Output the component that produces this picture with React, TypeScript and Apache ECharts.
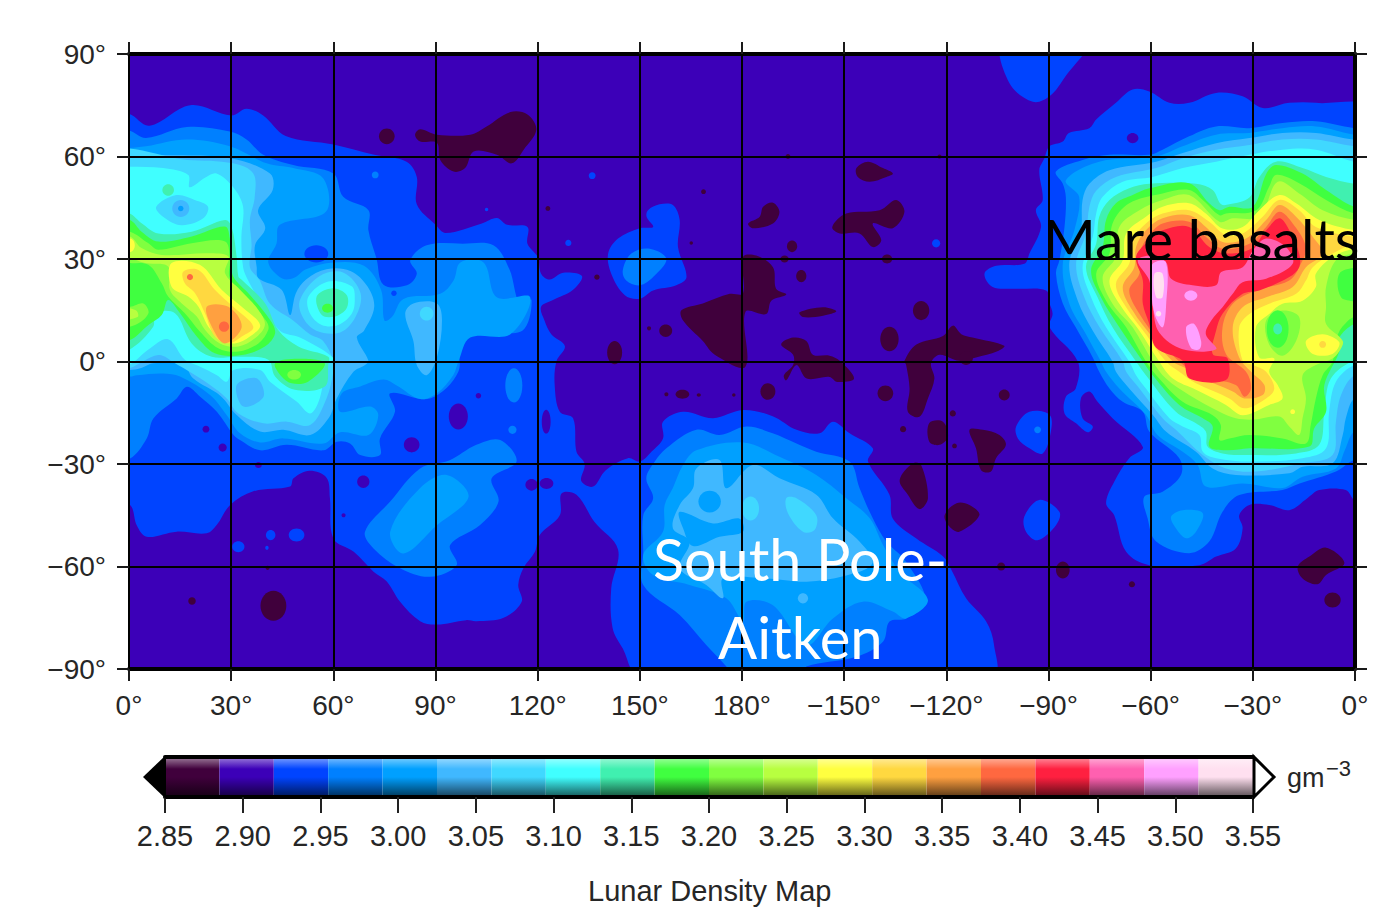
import React, { useEffect, useRef } from "react";
import * as echarts from "echarts";

// Colour scale: 20 bands of 0.035 g/cm3 from 2.85 to 3.55
const bandColors = ["#40003c","#3c00b8","#0044ff","#0080ff","#00a0ff","#40b8ff","#40d8ff","#40ffff","#40f0b0","#40ff40","#80ff40","#b8ff40","#ffff40","#ffd840","#ffa040","#ff6840","#ff2040","#ff60b0","#ffa0ff","#ffe0f0"];

// Contours as lon,lat pairs (lon 0..360); spots are lon,lat,rx,ry
const band2 = [
  [-5,72.5,0,72.5,6,69,18,75,30,72,34.5,74,39.4,72,46,66,60,63.5,72,60.5,81.5,58.5,84.5,54,84.5,46,90,40,93,37.6,103.6,40.4,108,42,111,40,117,39.4,117,34.5,120,30.6,121,25.7,123.5,24,127.5,26,133,25,130.4,21,124.5,18,121,16,122,12,124,8,128,4.5,125.5,0,125,-7,126.5,-14.7,130.4,-16.6,131.4,-26.4,133.8,-30,132.8,-35,136.3,-36.6,140,-31.8,146.5,-28.3,150,-29.3,153.4,-26.4,156.8,-22.5,156.8,-17.6,162.7,-14.7,171.5,-16.6,180.3,-14.2,189,-16,196,-20,202.8,-21,206.7,-17.6,211.6,-21,218.4,-25.4,217,-29.3,223.3,-39,224.3,-46,231.2,-51.8,239,-57,241.5,-61,245.8,-69.3,251.7,-76.1,254,-83,253.6,-92,150,-92,145,-84,142,-78,141.6,-66.4,143.6,-55,136.7,-47,131.4,-39,127,-38.6,126.5,-45,120.6,-50.8,119.2,-55.7,115.8,-60.5,114.3,-65.4,115.3,-70.3,110,-75,102,-76,99,-75.7,90.3,-77,85.5,-76,79.6,-70.3,75.7,-64.4,71.8,-61.5,66,-55.7,60,-51.8,59,-40,58,-34,53,-32,48.3,-34.2,47.3,-36.6,36.5,-38,29.7,-42,25.8,-47.8,22.8,-50.3,14,-49.8,5.2,-51.3,2.3,-48,0.3,-42,-5,-42],
  [365,73,348.5,75.7,340.7,75.7,332.9,74.2,327,77.6,319.2,78.6,311.3,75.7,305.5,75.7,299.6,79,294.7,79.6,289.8,75.7,284,70.8,282,68.3,276,66.9,274.2,64.4,270.3,63,268.8,59.5,267.3,56,268.3,47.3,266.3,44.3,267.8,39.4,264.4,31.6,262.9,28.6,254.6,28,251.2,25.7,253.6,21.8,260.5,21.3,269.3,20.8,270.3,17,271.2,14,270.3,10,278.6,0,278,-7.9,275.1,-10.3,274.7,-15.2,278.1,-18.1,281.5,-20.7,283,-19,280,-16.6,279.5,-10.8,282,-8.8,284.4,-11.8,288.8,-16.6,297.7,-25,293.7,-28.3,289.3,-35.2,286.9,-41.5,289.3,-45,292.8,-55.7,299.6,-59.6,314.3,-59.6,319.2,-57.1,325,-54.7,327,-48.8,326,-45,329,-42,334.8,-42,340.7,-43.5,346,-40,349.5,-37.6,357.3,-37.6,359.8,-40.5,365,-42],
  [256.6,93,258.5,81.5,265.4,76,270.3,77.6,275,83.5,281,93],
  [152.4,44.3,155.8,46,159.7,45.8,161.7,41.4,161.2,33.5,163.7,24.7,160.7,22.3,153.9,20.8,150,18.4,145.6,19.4,141.6,25.7,140.7,31.6,143.6,36,150,39,153.9,39.4,152,42.3],
  [260.5,-19,264.4,-14.7,270.3,-15.6,270.7,-20.5,268.3,-26.9,264.4,-25.4,261,-22.5],
  [262.9,-45.4,267.3,-40.5,273.2,-44,272.2,-47.9,266.8,-52.3,263.4,-49.8],
];
const spots2 = [[32.1,-54.2,1.8,1.6],[41.6,-50.8,1.4,1.5],[49.2,-50.8,2.3,1.9],[40.5,-54.5,0.5,0.6],[129,34.7,0.9,0.9],[136,54.4,1,1],[237,34.6,1.2,1.2],[105,44.5,0.5,0.5]];
const indigoSpots = [[96.7,-16.1,2.8,3.8],[83,-24.4,2.3,2.2],[68.8,-35.2,1.8,1.8],[22.6,-19.8,1,1],[27.5,-25.2,1.2,1.2],[38,-30.3,1,0.9],[118.2,-36.1,1.8,1.7],[122.6,-35.7,2,1.6],[122.5,-17.6,1.3,3.5],[102.6,-10,0.8,0.8],[63,-45,0.6,0.6],[294.7,65.4,1.7,1.5]];

const darkRings = [
  [84,66.4,85.5,68,90.4,66.4,100.2,66.4,105,68.8,112,73,117,72.3,119.6,67.8,115.9,62,112.4,58,108,60.5,101.2,61.5,98.7,56.6,95.3,55.6,91.4,59,90.4,64,85.5,64.4],
  [213.6,56.6,217,58.5,221.4,56.6,224.3,55,222.4,54,217.5,52.6,214,54],
  [181.8,40.4,185.2,42.4,186.2,45.3,189.1,46.5,191,43.8,189.1,40.4,183.2,39],
  [206.5,39.4,210.6,43.3,220.4,44.3,225.3,47.3,227.7,43.8,224.3,39,218.4,40.4,220.9,35.5,218.4,33.5,214.5,37.5,208.7,37.5],
  [196.9,14.4,203.8,15.9,207.7,14.7,203.8,13.4,197.9,13],
  [180.3,30.6,184.2,31,189.1,27.6,190,21.3,193,19.6,188.6,17.8,187.1,13.9,181,14.5,181,-1.5,172,2,168.5,6,162.7,12,162.2,15,168.5,17,176.4,19.8,180.3,20],
  [191.5,5,195,7,198.9,6,200.8,2,205.7,1.7,208.7,0.2,212.9,-5,208,-6,205.7,-4.5,199,-5,196,-1,193,-5.5,192.3,-4,195,-1,195,2],
  [227.7,0.2,231.2,5,239,7.5,241.9,10.5,244.4,8,247.7,7,257,4.6,255,3,248.7,1.2,243.8,0.2,238,2,235.5,-0.5,236.5,-5,234.6,-10.8,232.1,-16.2,228.7,-14.7,229.2,-7.9,228.2,-1],
  [235,-18,239,-17.6,240.5,-22,238,-24.4,235,-23.5],
  [226.3,-34.7,230.2,-29.8,232.6,-30.3,234.6,-40,232.1,-43.2,228.7,-39],
  [239.5,-45,243,-41.5,246.8,-42,249.7,-45,243.8,-49.8,240.9,-48.3],
  [246.8,-20,250.7,-20,255.6,-21.5,257.5,-24.4,254.6,-28.3,253.1,-32.2,250.2,-31.8,248.7,-25.4],
  [343.2,-60,346.6,-57.1,351.5,-54.5,356.9,-59,351.5,-62.5,349,-65.2,344.6,-63.5],
];
const darkSpots = [[75.7,65.9,2.3,2.3],[194.7,33.7,1.5,1.7],[192.5,30,1.2,1],[222.6,30,1.5,1.3],[197.4,25,1.5,1.8],[137.4,24.7,0.8,0.8],[157.6,9,1.9,1.8],[152.7,9.7,0.6,0.6],[142.6,2.6,2.2,3.4],[232.6,14.9,2.4,2.8],[223.3,6.6,2.7,3.6],[187.6,-8.8,2.2,2.4],[222.1,-9.3,2.3,2.3],[162.5,-9.6,2,1.3],[157.8,-9.6,0.6,0.6],[167.3,-9.8,0.6,0.5],[177.6,-9.8,0.5,0.5],[241.9,-15.2,0.9,0.9],[227.3,-19.8,0.9,0.9],[242.4,-24.7,0.7,0.7],[245.8,1,2,2],[257,-9.8,1.6,1.6],[256.1,-60,1.2,1.2],[274.2,-61,2,2.5],[294.5,-65.2,0.9,0.9],[353.4,-69.8,2.4,2.2],[18.5,-70.1,1.1,1.1],[42.4,-71.5,3.8,4.4],[40.7,-60.4,0.6,0.6],[168.7,49.7,0.7,0.7],[123,44.8,0.7,0.7],[193.5,60,0.7,0.7],[238,60,0.6,0.6],[165.1,34.7,0.5,0.5]];

const band3 = [
  [-5,67.6,0,67.6,5,65.4,17,68.6,29.6,67.3,34.5,65,39.4,60.5,48.2,57.5,60,55,62.9,48.2,70.3,44.3,70.3,38.4,72.7,30,74.7,22.5,81.6,22.3,84.5,25.7,82.6,29.6,87.4,34,98,34.5,107,34,111.7,27,114.7,17,118.2,18,115.5,9,105,9,97,8,96.7,-3,88.4,-10.8,76.7,-9.3,78.1,-14.7,73.7,-22.5,73.7,-27.4,67.9,-27.4,64.9,-24,61,-23.5,57.1,-26,46.3,-24.4,38.5,-26,32.6,-23,30.7,-21.5,25.8,-14.7,20.9,-10.3,17,-7.4,14,-10.8,7.2,-16.6,5.2,-22.5,0.3,-28.4,-5,-28.4],
  [365,68.3,359.8,68.3,348.5,70.3,338.7,69.8,329,68.3,319.2,68.8,311.3,65.9,303.5,62,299.6,60.5,287.9,60.5,280,59,272.2,55.6,274.2,52,275.1,48,274.7,39.4,273.2,29.6,272.2,25.7,274.2,17,278,10,283,1.2,284.9,-3,287.9,-7.9,291.8,-11.8,297.7,-14.7,299.6,-20.5,308.4,-28.3,308.9,-33.2,303.5,-38.1,298.1,-39.6,299.1,-45.9,301.6,-52.7,311.3,-56.1,317.2,-52.7,321.1,-44,326,-39.1,338.7,-37.6,343.7,-35.7,354.4,-32.2,359.8,-28.8,365,-28.8],
  [157.8,-25.4,166.6,-20,173.4,-21.5,181.3,-19,189,-21,196,-24,201.8,-26.4,211.6,-29.3,214.5,-37,218.4,-45.9,222.4,-52.7,228.2,-58.6,234,-70.3,228.2,-75.2,223.3,-76.1,221.4,-82,213.6,-86.4,198.9,-89.3,198.9,-92,176.9,-92,175.4,-89.3,169.5,-83,161.7,-74.2,151,-65.4,151,-55.7,151,-45,153.9,-40,151.9,-34.2,154.4,-29.3],
  [69.3,-49.8,76.7,-41,85.5,-31.3,94,-29,102,-24.4,109,-23,113.8,-29.3,106.5,-34.2,108.5,-41,103,-47.9,94.3,-53.7,96.2,-59.6,88.4,-63,79.6,-60.5,71.8,-54.7],
  [145,26.7,147.5,31.6,152.9,33,157.8,30,153.9,24.7,150,22.3,146,23.7],
];
const spots3 = [[72.3,54.6,1,1],[266.8,-20,1,1],[113,-7,2.5,5],[112.6,-20,1.2,1.2]];
const holes2 = [[55,31.5,3.5,2.5],[77.8,20,0.8,0.8]];

const band4 = [
  [-5,62.5,0,62.5,5,63,17,65,29.6,63,40.4,58,48.2,56.6,57,53.6,57.8,43.8,44.3,40,43.3,34.5,40.9,29,45,24.3,48.5,24.5,52,27,60,29,69,28,74,21,75,12,77.2,13,80.6,18.3,91.4,19.8,95.3,23.7,97.3,29,104.1,29,108,18.8,117.8,18.8,112,8,100.2,7,96.8,0.2,95.2,-4,90.4,-9.3,85.5,-11,78.6,-7,74.7,-5.3,67.9,-7.3,62.5,-9.3,62,-14.7,70.8,-13.2,73.2,-15.7,70.3,-21.5,62,-20.7,57.1,-24,45.3,-22.5,38.5,-23.7,32.6,-21,28.7,-15.7,23.8,-9.8,15,-4.4,10,-3.5,2.3,-4,0.3,-4.4,-5,-4.4],
  [365,66.4,359.8,66.4,348.5,68.8,338.7,68.3,329,66.9,319.2,66.4,309.4,63,301.6,60,284.9,58.5,275.1,53,279,48.2,277.6,38.4,274.2,28.6,276.1,17,281,8,285.4,0,286.9,-3,290.8,-7.9,298.6,-15.6,302,-21.5,309.4,-26.4,313.8,-30.3,316.2,-36.6,327,-35.7,338.7,-37,344.6,-33.7,354.4,-31.3,357,-26,359.8,-20.5,365,-20.5],
  [157.3,-42,159.7,-37,162.7,-30.3,166.6,-26,180.3,-23.7,191,-27.9,201.8,-33.2,210.6,-40,217.5,-45.9,221.4,-53.7,226.3,-61.5,234.6,-69.8,228.2,-75.2,224.3,-73.2,215.5,-70.3,206.7,-75.2,198.9,-83,189,-71.3,181.3,-70.3,180.3,-76,175.4,-69.3,164.6,-65.4,153.9,-62.5,151,-56.6,156.8,-49.8],
  [76.7,-49.8,85.5,-37,93.3,-33.2,99.7,-39.6,90.3,-48,80.6,-56.2],
  [306,-45.4,309.4,-43.5,315.3,-44.4,313.3,-49.8,310.4,-51.7,307.4,-48.8],
];

const band5 = [
  [-5,61,0,61,7,60.5,29.6,59.5,41.4,55,42.2,50.2,37.9,44.3,40,39,37,34,37.5,27.6,38,24.4,44.8,21,47.3,13.6,49,20,52,24,58,27,65,26.5,70,22,72,16,69,9,66.9,7,70.3,0.2,69.3,-1,65.9,-3,61,-10.8,58.6,-16.6,53.2,-21.5,45.3,-20,38.5,-20.5,31.7,-15.7,26.8,-10,18.9,-5,16,-1,7.2,-0.5,3.3,-2,0.3,-2.5,-5,-2.5],
  [365,64.9,359.8,64.9,348.5,66.9,338.7,66.9,329,65.4,319.2,63.9,309.4,61,301.6,58.5,287.9,56,282,52,280,47.3,279.5,38.4,276.1,28.6,278.6,17.8,283,9,288.8,0,289.8,-3,293.7,-7.9,300.6,-15.6,304.5,-20.5,313.3,-26.4,318.2,-31.3,325,-33.2,340.7,-32.7,344.6,-30.8,353.4,-29.8,356.4,-21.5,357.3,-16.6,359.8,-10.8,365,-10.8],
  [166.6,-31.3,173.4,-28.8,175.4,-37.1,183.2,-30.3,191,-34.2,201.8,-39,206.7,-45.9,214.5,-52.7,218.4,-58.6,214.5,-61.5,199.9,-64.4,187.1,-63.5,174.4,-63.5,174.4,-69.3,169.5,-65.4,161.7,-60.5,164.6,-52.7,159.7,-48.8,161.7,-42,165.6,-37.1],
  [81.1,14,83.5,17,90.4,17,91.9,12,90.4,1.2,87.4,-4,84.5,-1,83.5,6],
];
const spots5 = [[197.9,-69.3,1.5,1.5]];
const holes4 = [
  [161.7,-44,171.5,-47.4,179.3,-46,180.3,-49.8,173.4,-51.3,165.6,-54,162.7,-48.8],
];
const holes4Spots = [[170.5,-41,3.3,3.2]];

const band6 = [
  [-5,60,17,59,30.6,58,36.5,55,36.9,48,35.5,41.4,36,34,35.5,27.6,38.4,23.7,41.4,16.9,48.2,12,53.1,8,57,6,60,0.2,60,-3,58,-10.8,53.2,-18.6,46.3,-17.6,39.5,-18.1,32.1,-15.2,28.7,-10.8,23.8,-6.9,18.4,-3.4,13.5,-0.5,8.6,1.9,0,-2,-5,-2],
  [365,63,359.8,63,348.5,65,338.7,65,329,63.4,319.2,62,309.4,59.5,301.6,56.6,289.8,54,284,50,282,45.3,281,37.5,278.1,28.6,280.5,18.8,285,10,291.8,0,292.8,-3,296.7,-7.9,303.5,-16.6,307.4,-20,315.3,-27.4,322.1,-31.3,330.9,-32.2,344.6,-29.8,353.4,-27.4,354.4,-17.6,355.9,-9.8,359.8,-4,365,-4],
  [50.2,18,56,25,63,26,68,20,66.5,13,62,8.5,55,9,51,13],
  [193,-40,196,-40,201.8,-45,201.3,-49.3,197.9,-49.8,193.5,-44.4],
];
const spots6 = [[182.5,-43,2.5,3.5],[87.4,14,2,2]];
const holes5 = [[31.6,-6.9,37.5,-4.9,39.5,-10.3,33.6,-13.2]];

const band7 = [
  [-5,57,0,57,10,56.6,17.4,54.6,17.8,51,22.7,54,25.7,55,30.6,51,33.5,45.3,33,36.5,33.5,27.6,35,23.7,38.4,17.8,44.3,9,50.2,7,60,1,58,-1,56,-10.8,53.2,-15.2,49.3,-11.8,41.4,-5.9,38.5,-2.5,30.7,-2.5,28.7,-5.9,25.8,-4,20.9,-1.5,16.4,0.5,11.5,6.5,5.7,3.5,0,-1,-5,-1],
  [365,58.5,359.8,58.5,348.5,62,338.7,62,329,60.5,319.2,58.5,309.4,56.6,300.6,54,291.8,52.6,285.9,48.2,284,43.3,283,36.5,280,27.6,282.5,18.8,286.9,10,293.7,0,295.7,-4,298.6,-7.9,305.5,-16.6,309.4,-19,314.3,-21.5,315.3,-26.4,319.2,-28.3,329,-29.3,344.6,-28.3,351.5,-25.4,352.4,-14.7,354.4,-5.9,359.8,-1,365,-1],
  [52.7,19,58.5,23.4,65.4,22,66.3,18,65.4,14,61.4,10.7,56.6,10.7,53.1,14.1],
];
const holes6 = [[8,45.3,13.9,48.7,19.3,47.3,23.2,45.3,21.8,41.9,15.4,39.9,10,42.4]];
const holes5Spots = [[15.2,44.8,2.5,2.5]];
const holes4Dots = [[15.2,44.8,0.8,0.8]];

const band8 = [
  [-5,43.4,0,43.4,3.7,40.5,8.6,37.5,18.4,38,28.2,41.4,30.1,39.5,31.6,30.7,32.1,24.9,33.1,23.9,40,17,43.8,9.2,49.7,4.4,58.5,1.4,58.5,-1,57.5,-7.3,48.7,-8.3,42.9,-4.4,40.9,0.5,32.1,1.4,24.3,1.4,18.4,5.3,13.5,14.1,7.6,14.1,7.1,10.2,0,3.4,-5,3.4],
  [365,52,359.8,52,351.5,54,344.6,56.6,336.8,58.5,331.9,54,329,48,323.1,46,320.7,46,318.2,50.2,313.3,52,299.6,52,293.7,50.7,287.9,47.3,284.9,42.4,284,34.5,281,27.6,284.4,18.8,288.8,10,295.7,0,298.6,-4,307.4,-14.7,313.3,-18.1,316.2,-20.5,316.7,-24.9,321.1,-26.9,329,-27.4,342.7,-26.9,349.5,-24.4,351,-14.7,352.9,-5,359.8,0.4,365,0.4],
  [55.1,19,59.5,21.4,63.9,19.5,63.9,15.6,60.5,13.2,56.6,13.6],
];
const spots8 = [[11.5,50.2,1.7,1.7],[2.7,20,2.2,2.2]];
const holes7Spots = [[2.7,20,1.1,1.1]];

const band9 = [
  [-5,41.4,0.3,41.4,3.7,38,8.6,35.1,18.4,36.6,28.2,39.5,29.6,36,30.1,29.7,30.6,24.9,35.5,19.5,41.4,12.2,42.9,8.3,39.9,4.4,33.1,1.9,25.2,2.4,19.9,7.3,15,14.1,11.5,18,9.6,13.6,5.7,10.7,0.3,6.3,-5,6.3],
  [365,45.3,359.8,45.3,351.5,50.2,344.6,55,336.8,57.5,334,55,330,45.3,323.1,45.3,320.2,44.3,317.2,46.3,311.3,52.2,299.6,50.7,294.7,48.7,289.8,46.3,286.9,41.4,285.9,33.5,282.5,26.7,285.4,18.8,290.8,10,297.7,0,300.6,-4,308.4,-12.7,315.3,-16.6,318.2,-19,317.2,-24.9,322.1,-26,329,-25.4,346.6,-24.9,348,-19.6,351.5,-14.7,351,-6.9,355.4,3,355.4,7,359.8,11,365,11],
  [42.9,-0.5,44.8,-4.4,47.8,-6.4,52.6,-5.9,57.5,-0.5,49.7,0.8],
];
const spots9 = [[58.3,15.6,1.6,1.3]];

const bandA = [
  [-5,38,0.3,38,5.7,34.6,8.6,32.7,18.4,34.6,28.2,35.1,29.6,29.7,29.6,24.4,35,18,40.4,11.7,40.9,9.3,38,5.3,32.1,2.9,26.2,3.9,20.8,8.8,16.4,14.1,11.5,19,9.6,22.9,5.7,28.3,0.3,28.8,-5,28.8],
  [-5,16,0.3,16,4.2,17,5.7,14.1,1.8,10.7,-5,10],
  [365,43.3,359.8,43.3,351.5,47.3,343.6,52.2,336.8,54.6,334.8,51.2,331,44.3,322.1,43.3,320.2,42.8,315.3,47.3,311.3,50.2,303.5,49.2,293.7,46.3,288.8,40.4,287.9,31.6,284,25.7,286.9,17.8,292.8,10,298.6,0,302.5,-5,309.4,-11.8,318.2,-15.7,320.6,-18.6,320.2,-23,323.1,-22.5,329,-21.5,338.7,-22.5,345.6,-24,347,-18.6,348.5,-10.8,350.5,-4,353.4,0,355,8,358,12,361,14,361,17,355.9,18.8,355.4,25.7,361,27.6,365,27.6],
];
const spotsA = [[48.5,-3.9,2,1.4]];

const bandB = [
  [-5,36.6,0.3,36.6,3.7,33.2,9.6,31.2,23.3,31.7,29.2,30.7,28.2,25.8,32.6,21,38,15.1,39.9,10.7,37,6.8,32.1,4.4,26.7,5.3,22.3,9.3,19.9,13.2,15.5,17,12,21,11.5,27.8,4.7,28.8,0.3,30.2,-5,30.2],
  [-5,16,2,15,2.5,13,-5,12],
  [365,41.4,359.8,41.4,350.5,44.3,343.6,49.2,337.3,52.6,331.9,42.4,324.1,41.9,320.2,40.9,311.3,48.7,303.5,47.3,296.7,44.3,290.8,39.4,289.8,30.6,285.9,24.7,288.8,16.9,294.7,10,300.6,0,304.5,-5,311.3,-9.8,320.2,-14.7,325,-16.6,330,-17,337.8,-16.1,340.7,-19,343.6,-21.5,344.6,-16.6,345.6,-10.8,344.6,-4,348.5,-1,353.4,0.9,355.4,3,356.4,6,351.5,11,351.5,16,351.5,21.8,354.4,29.6,359.8,31.6,365,31.6],
];
const holesA = [[333.9,12,338.7,14.9,343.6,13,342.7,6,338.7,1.7,334.8,5]];
const holes9Spots = [[337.3,9.5,3.2,5.5]];
const holes8Spots = [[337.3,9.5,1.3,1.6]];

const bandC = [
  [12.5,28.8,20.8,28.3,27.2,21,33.1,16,38.5,10.7,35.5,7.3,31.1,5.3,27.2,6.3,23.3,10.2,20.4,16,17.4,19,12.5,21.9],
  [365,38.4,359.8,38.4,349.5,41.4,342.7,46.3,337.8,48.7,331.9,44.3,327,39.4,321.1,38.9,316.2,43.3,311.3,46.3,303.5,45.3,298.6,42.4,292.8,37.5,291.8,29.6,287.9,23.7,290.8,16.9,296.7,9,302.5,0,306.5,-5,313.3,-8.3,322.1,-12.7,327,-15.7,334.8,-12.7,338.7,-10.8,337.3,-6.9,334.8,-3,336.3,0.9,331.9,1.2,330.9,10,334.8,13.9,338.7,16.9,344.6,17.8,348.5,21.8,348.5,25.7,353.4,30.6,359.8,33,365,33],
  [345.6,6,350.5,8,355.4,5.6,353.4,2.2,347.6,2.2],
];
const spotsC = [[341.7,-14.7,0.7,0.7],[0.2,34,1.5,2]];

const bandD = [
  [15.9,26.3,20.4,26.8,25.2,21,30.6,16,36.5,10.2,33.1,7.3,29.2,5.3,25.2,7.3,22.3,14.1,19.4,20,16.4,22.9],
  [365,36.5,359.8,36.5,348.5,39.4,343.6,44.3,337.8,47.3,332.9,42.4,327,37.5,322.1,37,317.2,40.9,311.3,44.3,303.5,43.3,298.6,40.4,294.7,35.5,293.7,28.6,289.8,22.7,292.8,15.9,298.6,8,304.5,0,308.4,-3,313.3,-6.4,323.1,-10.8,327.5,-13.7,333.9,-10.8,336.3,-7.9,333.9,-3,330,-1,327,0.2,326,10,329,13.9,334.8,16.9,342.7,19.8,345.6,23.7,347.6,27.6,353.4,31.6,359.8,34.5,365,34.5],
];
const spotsD = [[350.5,5,1,1]];

const bandE = [
  [22.8,16,29.2,16,33.1,10.2,28.2,5.3,24.8,9.2],
  [347.6,36.5,342.7,42.4,337.8,45.8,333.9,41.4,328,36,321.1,35,316.2,39.4,311.3,42.8,303.5,41.9,298.6,38.4,295.7,33.5,295.2,27.6,291.8,21.8,294.7,14.9,300.6,7,306.5,0,310.4,-2,315.3,-5,324.1,-8.8,327.5,-10.8,332.9,-9.8,333.4,-6.9,329.5,-3,326,1.2,324.1,10,327,15.9,333.9,18.8,341.7,21.8,345.6,27.6,350.5,31.6],
];

const bandF = [
  [345.6,33.5,341.7,40.4,337.8,43.8,333.9,39.4,329,34.5,321.1,33,316.2,36.5,311.3,40.9,303.5,40.4,299.6,37,296.7,31.6,296.7,25.7,293.7,20.8,296.7,14,302.5,6,308.4,0,312.3,-3,317.2,-5,325,-6.9,327.5,-10.3,329.5,-7.9,328,-3,322.1,2.2,321.1,10,324.1,16.9,330.9,20.8,340.7,23.7,344.1,28.6],
];
const spotsF = [[27.9,10.2,1.5,1.5],[17.9,24.7,0.9,0.9]];

const bandG = [
  [343.6,31.6,340.7,38.4,337.8,41.9,333.9,38.4,329.5,33,322.1,31.6,317.2,33.5,311.3,39.4,303.5,38.4,299.6,35.5,295.7,30.6,297.7,23.7,297.7,16.9,299.6,11,301.6,4,309.4,0.2,311.4,-5,322.1,-5.4,322.6,0.9,318.2,2.2,319.2,9,321.1,14,327,19.8,331.9,20.8,340.7,24.7,343.6,27.6],
];
const bandH = [
  [341.7,28.6,333.9,24.2,327,23.2,324.1,19.8,321.1,15.9,317.8,12,316.2,8,319.2,3.6,309.4,3.6,302.5,8.5,300.6,15.9,299.6,23.7,296.2,29.6,300.6,31,304.5,29.1,306,24.2,312.3,22.3,319.2,22.3,320.7,26.2,327,27.6,330,32.5,333.9,36,339.7,33.5],
];
const bandI = [
  [300.6,28.6,304.5,29,304.5,15.9,303.5,10,301.1,14,300.1,23.7],
  [310.4,10,312.8,11,314.8,6,314.3,3.6,311.8,4],
];
const spotsI = [[311.8,19.3,1.9,1.5]];
const bandJ = [[301.1,25.7,303.5,25.7,303.5,18.8,301.6,18.8]];
const spotsJ = [[302.3,14,0.8,0.8]];

type Item = { band: number; ring?: number[]; spot?: number[] };
const rings = (band: number, list: number[][]): Item[] => list.map((ring) => ({ band, ring }));
const spots = (band: number, list: number[][]): Item[] => list.map((spot) => ({ band, spot }));

const paintItems: Item[] = [
  ...rings(2, band2), ...spots(2, spots2), ...spots(1, indigoSpots),
  ...rings(0, darkRings), ...spots(0, darkSpots),
  ...rings(3, band3), ...spots(3, spots3), ...spots(2, holes2),
  ...rings(4, band4),
  ...rings(5, band5), ...spots(5, spots5), ...rings(4, holes4), ...spots(4, holes4Spots),
  ...rings(6, band6), ...spots(6, spots6), ...rings(5, holes5),
  ...rings(7, band7), ...rings(6, holes6), ...spots(5, holes5Spots), ...spots(4, holes4Dots),
  ...rings(8, band8), ...spots(8, spots8), ...spots(7, holes7Spots),
  ...rings(9, band9), ...spots(9, spots9),
  ...rings(10, bandA), ...spots(10, spotsA),
  ...rings(11, bandB), ...rings(10, holesA), ...spots(9, holes9Spots), ...spots(8, holes8Spots),
  ...rings(12, bandC), ...spots(12, spotsC),
  ...rings(13, bandD), ...spots(13, spotsD),
  ...rings(14, bandE),
  ...rings(15, bandF), ...spots(15, spotsF),
  ...rings(16, bandG),
  ...rings(17, bandH),
  ...rings(18, bandI), ...spots(18, spotsI),
  ...rings(19, bandJ), ...spots(19, spotsJ),
];

const mix = (hex: string, target: number, t: number) => {
  const c = [1, 3, 5].map((i) => parseInt(hex.slice(i, i + 2), 16));
  return `rgb(${c.map((v) => Math.round(v + (target - v) * t)).join(",")})`;
};

const lonLabel = (v: number) => (v === 360 || v === 0 ? "0°" : v <= 180 ? `${v}°` : `−${360 - v}°`);
const latLabel = (v: number) => (v < 0 ? `−${-v}°` : `${v}°`);
const font = "'Liberation Sans', Arial, sans-serif";
const labelColor = "#262626";

export default function App() {
  const ref = useRef<HTMLDivElement>(null);
  useEffect(() => {
    document.body.style.margin = "0";
    const chart = echarts.init(ref.current!, undefined, { renderer: "svg" });
    const mapAxisX = (position: string, labels: boolean) => ({
      type: "value", gridIndex: 0, position, min: 0, max: 360, interval: 30, z: 10,
      axisLine: { show: true, onZero: false, lineStyle: { color: "#000", width: 4 } },
      axisTick: { show: true, length: 12, lineStyle: { color: "#1a1a1a", width: 2 } },
      splitLine: { show: labels, lineStyle: { color: "#000", width: 2 } },
      axisLabel: { show: labels, margin: 22, fontSize: 28, fontFamily: font, color: labelColor, formatter: lonLabel, hideOverlap: false, showMinLabel: true, showMaxLabel: true },
    });
    const mapAxisY = (position: string, labels: boolean) => ({
      type: "value", gridIndex: 0, position, min: -90, max: 90, interval: 30, z: 10,
      axisLine: { show: true, onZero: false, lineStyle: { color: "#000", width: position === "left" ? 2 : 4 } },
      axisTick: { show: true, length: 12, lineStyle: { color: "#1a1a1a", width: 2 } },
      splitLine: { show: labels, lineStyle: { color: "#000", width: 2 } },
      axisLabel: { show: labels, margin: 23, fontSize: 28, fontFamily: font, color: labelColor, formatter: latLabel, showMinLabel: true, showMaxLabel: true },
    });
    const scaleAxis = (position: string, labels: boolean) => ({
      type: "value", gridIndex: 1, position, min: 2.85, max: 3.55, interval: 0.05, z: 10,
      axisLine: { show: true, onZero: false, lineStyle: { color: "#000", width: 4 } },
      axisTick: { show: labels, length: 16, lineStyle: { color: "#222", width: 2 } },
      splitLine: { show: false },
      axisLabel: { show: labels, margin: 24, fontSize: 29, fontFamily: font, color: labelColor, formatter: (v: number) => v.toFixed(2), showMinLabel: true, showMaxLabel: true },
    });
    const option: any = {
      animation: false,
      backgroundColor: "#fff",
      title: { text: "Lunar Density Map", left: 583, top: 871, textStyle: { fontSize: 29, fontWeight: "normal", fontFamily: font, color: labelColor } },
      grid: [
        { left: 129, top: 54, width: 1226, height: 615 },
        { left: 165, top: 757, width: 1088, height: 40 },
      ],
      xAxis: [mapAxisX("bottom", true), mapAxisX("top", false), scaleAxis("bottom", true), scaleAxis("top", false)],
      yAxis: [
        mapAxisY("left", true), mapAxisY("right", false),
        { type: "value", gridIndex: 1, min: 0, max: 1, show: false },
      ],
      series: [
        {
          type: "custom", xAxisIndex: 0, yAxisIndex: 0, clip: true, silent: true, z: 2,
          encode: { x: 0, y: 1 },
          data: [[0, -90], ...paintItems.map((p) => (p.ring ? [p.ring[0], p.ring[1]] : [p.spot![0], p.spot![1]]))],
          renderItem: (params: any, api: any) => {
            if (params.dataIndex === 0) {
              const a = api.coord([0, 90]);
              const b = api.coord([360, -90]);
              return { type: "rect", shape: { x: a[0], y: a[1], width: b[0] - a[0], height: b[1] - a[1] }, style: { fill: bandColors[1] } };
            }
            const item = paintItems[params.dataIndex - 1];
            const fill = bandColors[item.band];
            if (item.spot) {
              const c = api.coord([item.spot[0], item.spot[1]]);
              const s = api.size([item.spot[2], item.spot[3]]);
              return { type: "ellipse", shape: { cx: c[0], cy: c[1], rx: s[0], ry: s[1] }, style: { fill } };
            }
            const points: number[][] = [];
            for (let i = 0; i < item.ring!.length; i += 2) points.push(api.coord([item.ring![i], item.ring![i + 1]]));
            return { type: "polygon", shape: { points, smooth: 0.35 }, style: { fill } };
          },
        },
        {
          type: "custom", xAxisIndex: 2, yAxisIndex: 2, silent: true, z: 2,
          encode: { x: 0 },
          data: bandColors.map((_, i) => [2.85 + i * 0.035, 2.85 + (i + 1) * 0.035]),
          renderItem: (params: any, api: any) => {
            const a = api.coord([api.value(0), 1]);
            const b = api.coord([api.value(1), 0]);
            const base = bandColors[params.dataIndex];
            return {
              type: "rect",
              shape: { x: a[0], y: a[1], width: b[0] - a[0], height: b[1] - a[1] },
              style: {
                fill: new echarts.graphic.LinearGradient(0, 0, 0, 1, [
                  { offset: 0, color: mix(base, 255, 0.5) },
                  { offset: 0.3, color: base },
                  { offset: 0.5, color: base },
                  { offset: 1, color: mix(base, 0, 0.65) },
                ]),
              },
            };
          },
        },
      ],
      graphic: [
        { type: "polygon", z: 20, shape: { points: [[166, 755], [143, 777], [166, 799]] }, style: { fill: "#000" } },
        { type: "polygon", z: 20, shape: { points: [[1254, 757], [1274, 777], [1254, 797]] }, style: { fill: "#fff", stroke: "#000", lineWidth: 3 } },
        { type: "text", z: 20, x: 1287, y: 764, style: { text: "gm", fontSize: 27, fontFamily: font, fill: labelColor } },
        { type: "text", z: 20, x: 1326, y: 757, style: { text: "−3", fontSize: 22, fontFamily: font, fill: labelColor } },
        { type: "text", z: 20, x: 1043, y: 209, style: { text: "Mare basalts", fontSize: 57, fontFamily: "Lato, sans-serif", fill: "#000" } },
        { type: "text", z: 20, x: 653, y: 529, style: { text: "South Pole-", fontSize: 57.5, fontFamily: "Lato, sans-serif", fill: "#fff" } },
        { type: "text", z: 20, x: 718, y: 607, style: { text: "Aitken", fontSize: 58, fontFamily: "Lato, sans-serif", fill: "#fff" } },
      ],
    };
    chart.setOption(option);
    return () => chart.dispose();
  }, []);
  return <div ref={ref} style={{ position: "absolute", left: 0, top: 0, width: 1382, height: 908 }} />;
}
